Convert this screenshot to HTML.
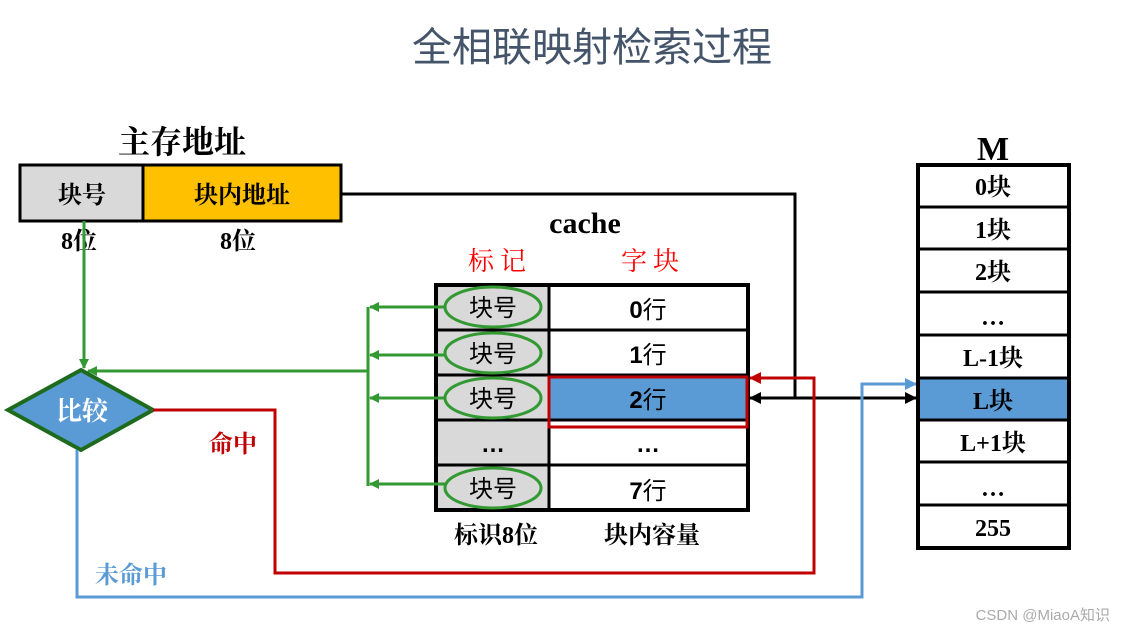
<!DOCTYPE html>
<html><head><meta charset="utf-8"><style>
body{margin:0;background:#fff}
svg{display:block}
.b{font-family:"Liberation Serif","Noto Serif CJK SC",serif;font-weight:bold}
.s{font-family:"Liberation Sans","Noto Sans CJK SC",sans-serif}
</style></head><body>
<svg width="1123" height="632" viewBox="0 0 1123 632" xmlns="http://www.w3.org/2000/svg">
<defs>
<marker id="ag" markerWidth="10" markerHeight="10" refX="9" refY="5" orient="auto" markerUnits="userSpaceOnUse"><path d="M0,0 L10,5 L0,10 z" fill="#339933"/></marker>
<marker id="ar" markerWidth="12" markerHeight="12" refX="11" refY="6" orient="auto" markerUnits="userSpaceOnUse"><path d="M0,0 L12,6 L0,12 z" fill="#c00000"/></marker>
<marker id="ab" markerWidth="12" markerHeight="12" refX="11" refY="6" orient="auto" markerUnits="userSpaceOnUse"><path d="M0,0 L12,6 L0,12 z" fill="#5b9bd5"/></marker>
<marker id="ak" markerWidth="12" markerHeight="12" refX="11" refY="6" orient="auto-start-reverse" markerUnits="userSpaceOnUse"><path d="M0,0 L12,6 L0,12 z" fill="#000"/></marker>
</defs>
<text x="592" y="61" text-anchor="middle" class="s" font-size="40" fill="#44546a">全相联映射检索过程</text>

<!-- main address -->
<text x="182" y="153" text-anchor="middle" class="b" font-size="32">主存地址</text>
<rect x="20" y="165" width="123" height="56" fill="#d9d9d9" stroke="#000" stroke-width="3"/>
<rect x="143" y="165" width="198" height="56" fill="#ffc000" stroke="#000" stroke-width="3"/>
<text x="82" y="203" text-anchor="middle" class="b" font-size="24">块号</text>
<text x="242" y="203" text-anchor="middle" class="b" font-size="24">块内地址</text>
<text x="79" y="249" text-anchor="middle" class="b" font-size="24">8位</text>
<text x="238" y="249" text-anchor="middle" class="b" font-size="24">8位</text>

<!-- black line -->
<polyline points="341,194 795,194 795,398" fill="none" stroke="#000" stroke-width="3"/>
<line x1="750" y1="398" x2="916" y2="398" stroke="#000" stroke-width="3" marker-start="url(#ak)" marker-end="url(#ak)"/>

<!-- cache -->
<text x="585" y="233" text-anchor="middle" class="b" font-size="30">cache</text>
<text x="500" y="270" text-anchor="middle" font-family="Noto Serif CJK SC,serif" font-size="26" fill="#ff0000" letter-spacing="6">标记</text>
<text x="653" y="270" text-anchor="middle" font-family="Noto Serif CJK SC,serif" font-size="26" fill="#ff0000" letter-spacing="6">字块</text>
<rect x="436" y="285" width="113" height="225" fill="#d9d9d9"/>
<rect x="549" y="285" width="199" height="225" fill="#fff"/>
<rect x="549" y="375" width="199" height="45" fill="#5b9bd5"/>
<g stroke="#000" stroke-width="3">
<line x1="436" y1="330" x2="748" y2="330"/><line x1="436" y1="375" x2="748" y2="375"/>
<line x1="436" y1="420" x2="748" y2="420"/><line x1="436" y1="465" x2="748" y2="465"/>
<line x1="549" y1="285" x2="549" y2="510"/>
</g>
<rect x="436" y="285" width="312" height="225" fill="none" stroke="#000" stroke-width="4"/>
<rect x="549" y="377" width="198" height="50" fill="none" stroke="#c00000" stroke-width="3"/>
<g fill="none" stroke="#339933" stroke-width="3">
<ellipse cx="493" cy="307" rx="48" ry="20"/><ellipse cx="493" cy="353" rx="48" ry="20"/>
<ellipse cx="493" cy="398" rx="48" ry="20"/><ellipse cx="493" cy="488" rx="48" ry="20"/>
</g>
<g class="s" font-size="24" text-anchor="middle" fill="#000">
<text x="493" y="316">块号</text><text x="493" y="362">块号</text><text x="493" y="407">块号</text><text x="493" y="497">块号</text>
<text x="648" y="318" font-weight="bold">0<tspan font-weight="normal">行</tspan></text>
<text x="648" y="363" font-weight="bold">1<tspan font-weight="normal">行</tspan></text>
<text x="648" y="408" font-weight="bold">2<tspan font-weight="normal">行</tspan></text>
<text x="648" y="499" font-weight="bold">7<tspan font-weight="normal">行</tspan></text>
<text x="493" y="452" font-weight="bold">…</text><text x="648" y="452" font-weight="bold">…</text>
</g>
<text x="496" y="543" text-anchor="middle" class="b" font-size="24">标识8位</text>
<text x="652" y="543" text-anchor="middle" class="b" font-size="24">块内容量</text>

<!-- green -->
<g stroke="#339933" stroke-width="3" fill="none">
<line x1="84" y1="221" x2="84" y2="368" marker-end="url(#ag)"/>
<line x1="368" y1="307" x2="368" y2="486"/>
<line x1="368" y1="371" x2="88" y2="371" marker-end="url(#ag)"/>
<line x1="445" y1="307" x2="370" y2="307" marker-end="url(#ag)"/>
<line x1="445" y1="355" x2="370" y2="355" marker-end="url(#ag)"/>
<line x1="445" y1="398" x2="370" y2="398" marker-end="url(#ag)"/>
<line x1="445" y1="484" x2="370" y2="484" marker-end="url(#ag)"/>
</g>

<!-- diamond -->
<polygon points="8,410 81,370 153,410 81,450" fill="#5b9bd5" stroke="#1e6b1e" stroke-width="4"/>
<text x="82" y="420" text-anchor="middle" class="b" font-size="26" fill="#fff">比较</text>

<!-- red -->
<polyline points="153,410 275,410 275,573 814,573 814,378 750,378" fill="none" stroke="#c00000" stroke-width="3" marker-end="url(#ar)"/>
<text x="233" y="452" text-anchor="middle" class="b" font-size="24" fill="#c00000">命中</text>
<!-- blue -->
<polyline points="77,450 77,597 862,597 862,384 916,384" fill="none" stroke="#5b9bd5" stroke-width="3" marker-end="url(#ab)"/>
<text x="131" y="583" text-anchor="middle" class="b" font-size="24" fill="#5b9bd5">未命中</text>

<!-- M -->
<text x="993" y="160" text-anchor="middle" class="b" font-size="34">M</text>
<rect x="918" y="165" width="151" height="383" fill="#fff"/>
<rect x="918" y="378" width="151" height="42" fill="#5b9bd5"/>
<g stroke="#000" stroke-width="3">
<line x1="918" y1="207" x2="1069" y2="207"/><line x1="918" y1="249" x2="1069" y2="249"/>
<line x1="918" y1="292" x2="1069" y2="292"/><line x1="918" y1="335" x2="1069" y2="335"/>
<line x1="918" y1="378" x2="1069" y2="378"/><line x1="918" y1="420" x2="1069" y2="420"/>
<line x1="918" y1="462" x2="1069" y2="462"/><line x1="918" y1="505" x2="1069" y2="505"/>
</g>
<rect x="918" y="165" width="151" height="383" fill="none" stroke="#000" stroke-width="4"/>
<g class="b" font-size="24" text-anchor="middle">
<text x="993" y="195">0块</text><text x="993" y="238">1块</text><text x="993" y="280">2块</text>
<text x="993" y="325">…</text><text x="993" y="366">L-1块</text><text x="993" y="409">L块</text>
<text x="993" y="451">L+1块</text><text x="993" y="496">…</text><text x="993" y="536">255</text>
</g>
<text x="1110" y="620" text-anchor="end" class="s" font-size="15" fill="#aaa">CSDN @MiaoA知识</text>
</svg>
</body></html>
